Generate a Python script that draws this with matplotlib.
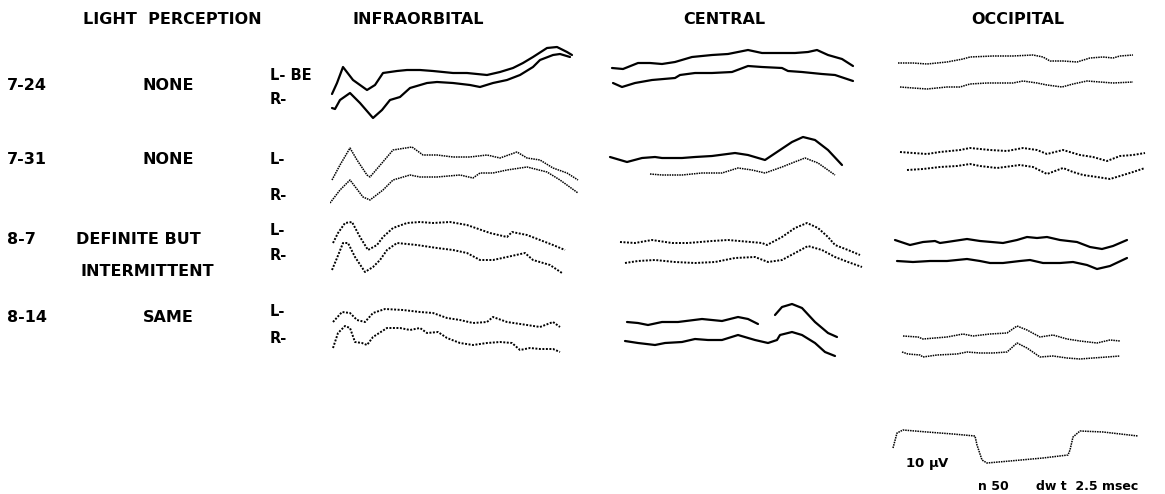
import matplotlib as mpl
mpl.use('Agg')
from matplotlib import pyplot as plt
import numpy as np

# averaged evoked responses.
# t = sweep position (px units from start of each column), v = deflection (negative up, px units)

# INFRAORBITAL
io_724_L_t = [2, 7, 13, 23, 37, 45, 53, 67, 77, 90, 103, 113, 123, 137, 157, 170, 183, 193, 203, 217, 227, 237, 242]
io_724_L_v = [54, 43, 27, 40, 50, 45, 33, 31, 30, 30, 31, 32, 33, 33, 35, 32, 28, 23, 17, 8, 7, 12, 15]
io_724_R_t = [2, 5, 10, 20, 30, 43, 52, 60, 70, 80, 97, 107, 123, 140, 150, 163, 177, 190, 203, 210, 223, 230, 240]
io_724_R_v = [68, 69, 60, 53, 63, 78, 70, 60, 57, 48, 43, 42, 43, 45, 47, 43, 40, 35, 27, 20, 15, 14, 17]

io_731_L_t = [2, 10, 20, 27, 37, 40, 52, 63, 82, 93, 107, 123, 140, 157, 170, 187, 197, 210, 223, 237, 248]
io_731_L_v = [50, 35, 18, 30, 45, 47, 33, 20, 17, 25, 25, 27, 27, 25, 28, 22, 28, 30, 38, 43, 50]
io_731_R_t = [0, 10, 20, 33, 40, 53, 63, 80, 90, 107, 130, 143, 150, 163, 177, 197, 217, 230, 248]
io_731_R_v = [73, 60, 50, 67, 70, 60, 50, 45, 47, 47, 45, 48, 43, 43, 40, 37, 42, 50, 63]

io_87_L_t = [3, 8, 15, 22, 30, 38, 47, 53, 63, 77, 90, 103, 120, 137, 160, 177, 182, 197, 210, 223, 235]
io_87_L_v = [28, 18, 8, 7, 22, 35, 30, 22, 13, 8, 7, 8, 7, 10, 18, 22, 17, 20, 25, 30, 35]
io_87_R_t = [2, 7, 13, 18, 25, 35, 43, 50, 57, 67, 87, 107, 123, 137, 150, 163, 177, 195, 203, 220, 232]
io_87_R_v = [55, 43, 28, 28, 42, 57, 52, 45, 35, 28, 30, 33, 35, 38, 45, 45, 42, 38, 45, 50, 58]

io_814_L_t = [3, 12, 20, 27, 35, 43, 55, 73, 90, 103, 117, 130, 143, 157, 163, 177, 197, 210, 223, 230]
io_814_L_v = [22, 12, 13, 20, 22, 13, 9, 10, 12, 13, 18, 20, 23, 22, 17, 22, 25, 27, 22, 27]
io_814_R_t = [3, 8, 15, 20, 25, 32, 37, 43, 57, 70, 80, 90, 97, 108, 117, 130, 143, 157, 170, 182, 190, 200, 210, 223, 230]
io_814_R_v = [48, 33, 26, 28, 42, 43, 45, 37, 28, 28, 30, 28, 33, 32, 38, 43, 45, 43, 42, 43, 50, 48, 49, 49, 52]

# CENTRAL
ce_724_L_t = [7, 18, 33, 45, 57, 70, 87, 107, 123, 143, 157, 170, 190, 203, 212, 223, 237, 248]
ce_724_L_v = [28, 29, 23, 23, 24, 22, 17, 15, 14, 10, 13, 13, 13, 12, 10, 15, 19, 26]
ce_724_R_t = [8, 17, 30, 47, 70, 75, 90, 107, 127, 143, 157, 177, 183, 197, 217, 230, 248]
ce_724_R_v = [43, 47, 43, 40, 38, 35, 33, 33, 32, 26, 27, 28, 31, 32, 34, 35, 41]

ce_731_L_t = [5, 22, 37, 50, 57, 77, 90, 107, 130, 143, 160, 172, 187, 198, 210, 223, 237]
ce_731_L_v = [27, 32, 28, 27, 28, 28, 27, 26, 23, 25, 30, 22, 12, 7, 10, 20, 35]
ce_731_R_t = [45, 57, 77, 97, 117, 133, 147, 160, 177, 187, 200, 213, 230]
ce_731_R_v = [44, 45, 45, 43, 43, 38, 40, 43, 37, 33, 28, 33, 45]

ce_87_L_t = [15, 30, 47, 67, 83, 107, 123, 157, 162, 177, 190, 202, 213, 223, 230, 243, 255]
ce_87_L_v = [27, 28, 25, 28, 28, 26, 25, 28, 30, 22, 13, 8, 13, 22, 30, 35, 40]
ce_87_R_t = [20, 33, 50, 70, 90, 110, 130, 150, 163, 177, 190, 203, 217, 230, 243, 257]
ce_87_R_v = [48, 46, 45, 47, 48, 47, 43, 42, 47, 45, 38, 31, 35, 42, 47, 52]

ce_814_L_t = [22, 33, 43, 57, 73, 97, 117, 133, 143, 153, np.nan, 170, 177, 187, 197, 210, 223, 232]
ce_814_L_v = [22, 23, 25, 22, 22, 19, 21, 17, 19, 24, np.nan, 15, 7, 4, 8, 22, 33, 37]
ce_814_R_t = [20, 33, 50, 60, 77, 90, 103, 117, 133, 150, 163, 172, 175, 187, 197, 210, 220, 230]
ce_814_R_v = [41, 43, 45, 43, 42, 39, 40, 40, 35, 40, 43, 40, 35, 32, 35, 43, 52, 56]

# OCCIPITAL
oc_724_L_t = [8, 23, 37, 57, 73, 80, 103, 123, 143, 153, 160, 173, 187, 200, 213, 223, 230, 243]
oc_724_L_v = [23, 23, 24, 22, 19, 17, 16, 16, 15, 17, 21, 21, 22, 18, 17, 18, 16, 15]
oc_724_R_t = [10, 23, 37, 57, 70, 80, 97, 110, 123, 133, 147, 157, 172, 183, 197, 210, 223, 243]
oc_724_R_v = [47, 48, 49, 47, 47, 44, 43, 43, 43, 41, 43, 45, 47, 44, 41, 42, 43, 42]

oc_731_L_t = [10, 23, 37, 50, 70, 80, 100, 117, 133, 147, 157, 173, 190, 203, 217, 230, 243, 255]
oc_731_L_v = [22, 23, 24, 22, 20, 18, 20, 21, 18, 20, 24, 20, 25, 27, 31, 26, 25, 23]
oc_731_R_t = [17, 33, 50, 67, 80, 90, 107, 130, 143, 157, 173, 183, 193, 207, 220, 230, 243, 255]
oc_731_R_v = [40, 39, 37, 36, 34, 36, 38, 35, 37, 44, 38, 42, 45, 47, 49, 46, 42, 38]

oc_87_L_t = [5, 20, 33, 45, 50, 57, 77, 90, 113, 127, 137, 147, 157, 170, 187, 200, 212, 223, 237]
oc_87_L_v = [25, 30, 27, 26, 28, 27, 24, 26, 28, 25, 22, 23, 22, 25, 27, 32, 34, 31, 25]
oc_87_R_t = [7, 23, 40, 57, 77, 90, 100, 113, 130, 140, 153, 170, 183, 197, 207, 220, 237]
oc_87_R_v = [46, 47, 46, 46, 44, 46, 48, 48, 46, 45, 48, 48, 47, 50, 54, 51, 43]

oc_814_L_t = [13, 28, 33, 57, 73, 83, 100, 117, 127, 137, 150, 163, 177, 190, 207, 220, 230]
oc_814_L_v = [36, 37, 39, 37, 34, 36, 34, 33, 26, 30, 37, 35, 39, 41, 43, 40, 41]
oc_814_R_t = [12, 18, 30, 33, 47, 67, 77, 90, 103, 117, 127, 137, 150, 163, 177, 190, 203, 217, 230]
oc_814_R_v = [52, 54, 55, 57, 55, 54, 52, 53, 53, 52, 43, 48, 57, 56, 58, 59, 58, 57, 56]

# calibration pulse (10 uV)
cal_t = [3, 7, 13, 37, 63, 85, 87, 92, 97, 120, 153, 178, 180, 183, 190, 213, 248]
cal_v = [28, 13, 10, 12, 14, 16, 25, 40, 43, 41, 38, 35, 30, 17, 11, 12, 16]

columns = ['INFRAORBITAL', 'CENTRAL', 'OCCIPITAL']
dates = ['7-24', '7-31', '8-7', '8-14']
perception = ['NONE', 'NONE', 'DEFINITE BUT\nINTERMITTENT', 'SAME']

W, H = 1165, 494
col_x = [330, 605, 890]
row_top = [40, 130, 215, 300]
PW, PH = 262, 85

def fx(x):
    return x / W

def fy(y):
    return 1 - y / H

def panel(x0, y0):
    ax = fig.add_axes([fx(x0), fy(y0 + PH), PW / W, PH / H])
    ax.set_xlim(0, PW)
    ax.set_ylim(PH, 0)
    ax.axis('off')
    return ax

SOLID = dict(color='k', lw=1.6, ls='-', solid_capstyle='round')
DOT = dict(color='k', lw=1.4, ls=(0, (1, 0.8)))
FINE = dict(color='k', lw=1.1, ls=(0, (1, 0.6)))

traces = {
    (0, 0): [(io_724_L_t, io_724_L_v, SOLID), (io_724_R_t, io_724_R_v, SOLID)],
    (0, 1): [(io_731_L_t, io_731_L_v, FINE), (io_731_R_t, io_731_R_v, FINE)],
    (0, 2): [(io_87_L_t, io_87_L_v, DOT), (io_87_R_t, io_87_R_v, DOT)],
    (0, 3): [(io_814_L_t, io_814_L_v, DOT), (io_814_R_t, io_814_R_v, DOT)],
    (1, 0): [(ce_724_L_t, ce_724_L_v, SOLID), (ce_724_R_t, ce_724_R_v, SOLID)],
    (1, 1): [(ce_731_L_t, ce_731_L_v, SOLID), (ce_731_R_t, ce_731_R_v, FINE)],
    (1, 2): [(ce_87_L_t, ce_87_L_v, DOT), (ce_87_R_t, ce_87_R_v, DOT)],
    (1, 3): [(ce_814_L_t, ce_814_L_v, SOLID), (ce_814_R_t, ce_814_R_v, SOLID)],
    (2, 0): [(oc_724_L_t, oc_724_L_v, FINE), (oc_724_R_t, oc_724_R_v, FINE)],
    (2, 1): [(oc_731_L_t, oc_731_L_v, DOT), (oc_731_R_t, oc_731_R_v, DOT)],
    (2, 2): [(oc_87_L_t, oc_87_L_v, SOLID), (oc_87_R_t, oc_87_R_v, SOLID)],
    (2, 3): [(oc_814_L_t, oc_814_L_v, FINE), (oc_814_R_t, oc_814_R_v, FINE)],
}

plt.rcParams.update({'font.family': 'DejaVu Sans', 'font.weight': 'bold'})
fig = plt.figure(figsize=(W / 100, H / 100), dpi=100)

for (c, r), trs in traces.items():
    ax = panel(col_x[c], row_top[r])
    for t, v, st in trs:
        ax.plot(t, v, **st)

ax = panel(col_x[2], 420)
ax.plot(cal_t, cal_v, **FINE)

# headings
hd = dict(fontsize=11.5, fontweight='bold', ha='center', va='center')
fig.text(fx(172), fy(20), 'LIGHT  PERCEPTION', **hd)
for name, xc in zip(columns, [418, 724, 1018]):
    fig.text(fx(xc), fy(20), name, **hd)

# row labels
date_y = [85, 160, 240, 318]
lab = dict(fontsize=11.5, fontweight='bold', va='center')
for d, p, y in zip(dates, perception, date_y):
    fig.text(fx(7), fy(y), d, ha='left', **lab)
    if '\n' in p:
        a, b = p.split('\n')
        fig.text(fx(138), fy(y), a, ha='center', **lab)
        fig.text(fx(147), fy(272), b, ha='center', **lab)
    else:
        fig.text(fx(168), fy(y), p, ha='center', **lab)

side_labels = ['L- BE', 'R-', 'L-', 'R-', 'L-', 'R-', 'L-', 'R-']
side_y = [75, 100, 160, 195, 230, 255, 312, 338]
for s, y in zip(side_labels, side_y):
    fig.text(fx(270), fy(y), s, ha='left', fontsize=10.5, fontweight='bold', va='center')

fig.text(fx(905), fy(464), '10 $\\mathbf{\\mu}$V', ha='left', va='center', fontsize=9.5, fontweight='bold')
fig.text(fx(978), fy(486), 'n 50', ha='left', va='center', fontsize=9, fontweight='bold')
fig.text(fx(1036), fy(486), 'dw t  2.5 msec', ha='left', va='center', fontsize=9, fontweight='bold')

fig.savefig('out.png', dpi=100, facecolor='white')
